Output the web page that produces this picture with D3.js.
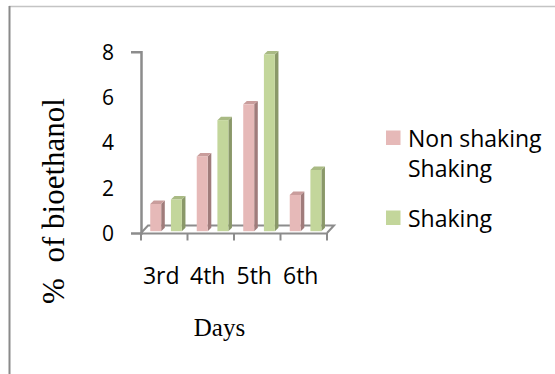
<!DOCTYPE html>
<html>
<head>
<meta charset="utf-8">
<script src="https://cdn.jsdelivr.net/npm/d3@7/dist/d3.min.js"></script>
<style>
  html, body { margin: 0; padding: 0; background: #fff; }
  svg { display: block; }
</style>
</head>
<body>
<svg id="chart" width="555" height="374"></svg>
<script>
// Bioethanol yield (%) by day of fermentation, non-shaking vs shaking
const days = ["3rd", "4th", "5th", "6th"];
const seriesNames = ["Non shaking Shaking", "Shaking"];
const nonShaking = [1.2, 3.3, 5.6, 1.6];
const shaking = [1.4, 4.9, 7.8, 2.7];
const yTicks = [0, 2, 4, 6, 8];

const colors = {
  front: ["#e6b9b8", "#c3d69b"],
  side:  ["#a07c7b", "#8a9869"],
  top:   ["#c99d9c", "#a9ba84"]
};

const svg = d3.select("#chart");

// page frame
svg.append("line").attr("x1", 9).attr("x2", 555).attr("y1", 6.5).attr("y2", 6.5)
  .attr("stroke", "#c4c4c4").attr("stroke-width", 1.5);
svg.append("line").attr("x1", 9.5).attr("x2", 9.5).attr("y1", 6).attr("y2", 374)
  .attr("stroke", "#8a8a8a").attr("stroke-width", 2);

const plotLeft = 141, plotRight = 327;
const y = d3.scaleLinear().domain([0, 8]).range([233, 51.7]);
const x = d3.scaleBand().domain(days).range([plotLeft, plotRight]);
const xSub = d3.scaleBand().domain([0, 1]).range([0, x.bandwidth()])
  .paddingInner(0.47).paddingOuter(0.36);

// 3D projection offsets
const floorDX = 7, floorDY = -7.5;
const barDX = 3.6, barDY = -3.4;
const barShift = 1.8;

const axisColor = "#8c8c8c";
const y0 = y(0);

// floor outline
const floor = d3.path();
floor.moveTo(plotLeft, y0);
floor.lineTo(plotLeft + floorDX, y0 + floorDY);
floor.lineTo(plotRight + floorDX, y0 + floorDY);
floor.lineTo(plotRight, y0);
svg.append("path").attr("d", floor.toString())
  .attr("fill", "none").attr("stroke", axisColor).attr("stroke-width", 2);

// bars
const rows = [];
days.forEach((d, i) => {
  rows.push({ day: d, s: 0, v: nonShaking[i] });
  rows.push({ day: d, s: 1, v: shaking[i] });
});

const bars = svg.append("g").selectAll("g").data(rows).join("g");
bars.each(function (r) {
  const g = d3.select(this);
  const x0 = x(r.day) + xSub(r.s) + barShift;
  const w = xSub.bandwidth();
  const yb = y(0) - barShift;
  const yt = y(r.v) - barShift;
  // side face
  g.append("path")
    .attr("d", `M${x0 + w},${yt} L${x0 + w + barDX},${yt + barDY} L${x0 + w + barDX},${yb + barDY} L${x0 + w},${yb} Z`)
    .attr("fill", colors.side[r.s]);
  // top face
  g.append("path")
    .attr("d", `M${x0},${yt} L${x0 + barDX},${yt + barDY} L${x0 + w + barDX},${yt + barDY} L${x0 + w},${yt} Z`)
    .attr("fill", colors.top[r.s]);
  // front face
  g.append("rect")
    .attr("x", x0).attr("y", yt).attr("width", w).attr("height", yb - yt)
    .attr("fill", colors.front[r.s]);
});

// value axis
const yAxis = d3.axisLeft(y).tickValues(yTicks).tickFormat(d3.format("d"))
  .tickSizeInner(0).tickSizeOuter(10).tickPadding(27);
const gy = svg.append("g").attr("transform", `translate(${plotLeft},0)`).call(yAxis);
gy.select(".domain").attr("stroke", axisColor).attr("stroke-width", 2.5);
gy.selectAll("text").attr("font-family", "'Open Sans', sans-serif")
  .attr("font-size", 21).attr("fill", "#000").attr("dy", "0.36em");

// category axis: ticks at band boundaries, labels centred on bands
const xAxis = d3.axisBottom(x).tickSize(0).tickPadding(0);
const gx = svg.append("g").attr("transform", `translate(0,${y0})`).call(xAxis);
gx.select(".domain").attr("stroke", axisColor).attr("stroke-width", 2);
gx.selectAll("text").attr("font-family", "'Open Sans', sans-serif")
  .attr("font-size", 23).attr("fill", "#000")
  .attr("y", 51).attr("dy", 0).attr("dx", -3);
const bounds = days.map(d => x(d)).concat([x(days[days.length - 1]) + x.bandwidth()]);
gx.selectAll(".bound").data(bounds).join("line").attr("class", "bound")
  .attr("x1", d => d).attr("x2", d => d).attr("y1", 0).attr("y2", 7.5)
  .attr("stroke", axisColor).attr("stroke-width", 2);

// axis titles
svg.append("text").attr("x", 219.5).attr("y", 336)
  .attr("text-anchor", "middle").attr("font-family", "'Liberation Serif', 'Times New Roman', serif")
  .attr("font-size", 25).attr("fill", "#000").text("Days");

svg.append("text").attr("transform", "translate(64,201) rotate(-90)")
  .attr("text-anchor", "middle").attr("font-family", "'Liberation Serif', 'Times New Roman', serif")
  .attr("font-size", 31).attr("fill", "#000").style("white-space", "pre")
  .text("%  of bioethanol");

// legend
const legend = svg.append("g").attr("font-family", "'Open Sans', sans-serif")
  .attr("font-size", 23).attr("fill", "#000");
const legendItems = [
  { lines: ["Non shaking", "Shaking"], top: 130.5 },
  { lines: ["Shaking"], top: 210.5 }
];
legendItems.forEach((it, i) => {
  legend.append("rect").attr("x", 386).attr("y", it.top).attr("width", 14.5).attr("height", 14.5)
    .attr("fill", colors.front[i]);
  it.lines.forEach((t, j) => {
    legend.append("text").attr("x", 408).attr("y", it.top + 16 + j * 30).text(t);
  });
});
</script>
</body>
</html>
